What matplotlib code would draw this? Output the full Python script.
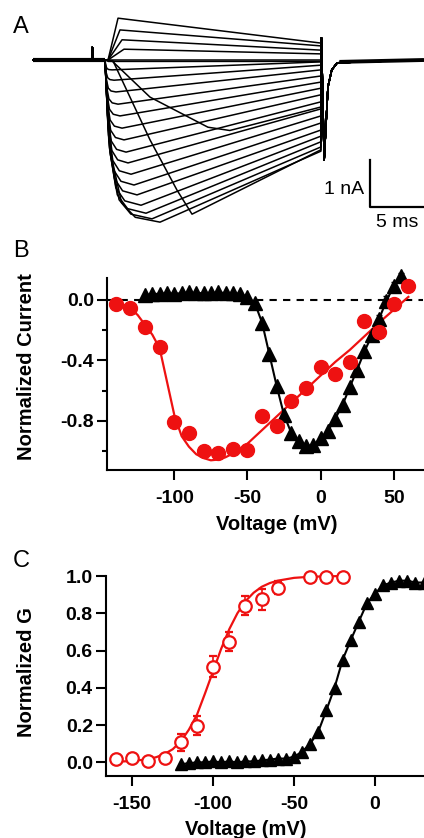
import numpy as np
import matplotlib
matplotlib.use("Agg")
import matplotlib.pyplot as plt

plt.rcParams['font.family'] = ['Liberation Sans', 'DejaVu Sans']
plt.rcParams['axes.unicode_minus'] = False

RED = '#ee1111'

# ---- panel A: current traces (time in ms from pulse onset, current in nA) ----
pre_t = [-6.6, -1.2, -1.17, -1.1, 0.0]
pre_i = [0.0, 0.0, 0.27, 0.0, 0.0]

pulse_end = 19.9
tail_t = [19.95, 20.2, 20.55, 20.9, 21.4, 23.5, 29.4]
tail_i = [0.47, -2.13, -0.57, -0.21, -0.06, -0.04, 0.0]

# inward traces: time to peak, peak current, current at end of pulse
in_tpk = [0.65, 0.83, 1.01, 1.20, 1.38, 1.57, 1.75, 1.94, 2.12, 2.40, 2.67, 2.95, 3.32, 3.78, 4.33, 5.07]
in_ipk = [-0.21, -0.43, -0.68, -0.94, -1.19, -1.45, -1.70, -1.96, -2.19, -2.43, -2.66, -2.87, -3.09, -3.26, -3.38, -3.45]
in_iend = [-0.04, -0.11, -0.21, -0.34, -0.47, -0.60, -0.74, -0.89, -1.04, -1.19, -1.34, -1.49, -1.62, -1.74, -1.85, -1.94]
# shared leading-edge shape (fraction of time to peak / fraction of peak)
act_ft = [0.0, 0.12, 0.3, 0.55, 1.0]
act_fi = [0.0, 0.6, 0.88, 0.97, 1.0]

# outward traces
out_ton = 0.28
out_tpk = [1.20, 1.38, 1.57, 1.75]
out_ipk = [0.89, 0.64, 0.43, 0.23]
out_iend = [0.36, 0.30, 0.21, 0.13]

# slowly activating traces
slow1_t = [0.0, 0.74, 4.15, 6.64, 8.02, pulse_end]
slow1_i = [0.0, -0.02, -1.70, -2.77, -3.28, -1.91]
slow2_t = [0.0, 0.65, 4.15, 9.49, 11.5, pulse_end]
slow2_i = [0.0, -0.02, -0.79, -1.43, -1.50, -1.00]
flat_i = [0.0, -0.03]

# ---- panel B: I-V ----
iv_red_v = [-140, -130, -120, -110, -100, -90, -80, -70, -60, -50, -40, -30, -20, -10, 0, 10, 20, 30, 40, 50, 60]
iv_red_i = [-0.026, -0.05, -0.18, -0.31, -0.81, -0.88, -1.0, -1.01, -0.985, -0.99, -0.77, -0.83, -0.67,
            -0.58, -0.445, -0.49, -0.41, -0.14, -0.21, -0.03, 0.09]
iv_fit_v = [-140, -130, -125, -120, -115, -110, -105, -100, -95, -90, -85, -80, -75, -70, -65, -60, -55,
            -50, -40, -30, -20, -10, 0, 10, 20, 30, 40, 50, 60]
iv_fit_i = [-0.007, -0.055, -0.1, -0.165, -0.23, -0.32, -0.54, -0.76, -0.9, -0.97, -1.02, -1.045, -1.06,
            -1.055, -1.04, -1.015, -0.985, -0.95, -0.86, -0.77, -0.68, -0.59, -0.50, -0.41, -0.33, -0.24,
            -0.15, -0.065, 0.02]
iv_blk_v = list(range(-120, 60, 5))
iv_blk_i = [0.03, 0.04, 0.04, 0.045, 0.04, 0.045, 0.05, 0.045, 0.045, 0.045, 0.05, 0.045, 0.045, 0.04,
            0.02, -0.02, -0.15, -0.36, -0.57, -0.76, -0.88, -0.935, -0.965, -0.96, -0.915, -0.865,
            -0.785, -0.695, -0.575, -0.46, -0.34, -0.235, -0.125, -0.005, 0.09, 0.155]
iv_blk_err = [0.0] * 31 + [0.02, 0.025, 0.03, 0.03, 0.02]

# ---- panel C: G-V ----
gv_red_v = [-160, -150, -140, -130, -120, -110, -100, -90, -80, -70, -60, -40, -30, -20]
gv_red_g = [0.018, 0.021, 0.009, 0.021, 0.107, 0.197, 0.513, 0.648, 0.84, 0.875, 0.937, 0.996, 0.996, 0.996]
gv_red_err = [0.0, 0.0, 0.0, 0.0, 0.045, 0.05, 0.055, 0.05, 0.05, 0.055, 0.035, 0.0, 0.0, 0.0]
gv_fit_v = [-160, -150, -140, -135, -130, -125, -120, -115, -110, -105, -100, -95, -90, -85, -80, -75,
            -70, -65, -60, -50, -40, -30, -20]
gv_fit_g = [0.003, 0.007, 0.017, 0.028, 0.045, 0.07, 0.112, 0.175, 0.255, 0.37, 0.49, 0.61, 0.715, 0.8,
            0.865, 0.91, 0.942, 0.962, 0.975, 0.99, 0.996, 0.998, 1.0]
gv_blk_v = list(range(-120, 35, 5))
gv_blk_g = [-0.01, -0.005, 0.0, 0.0, 0.005, 0.0, 0.005, 0.0, 0.005, 0.005, 0.01, 0.015, 0.02, 0.02,
            0.03, 0.057, 0.10, 0.165, 0.28, 0.40, 0.55, 0.655, 0.755, 0.853, 0.905, 0.95, 0.965,
            0.975, 0.975, 0.965, 0.965]

W, H = 424, 838
fig = plt.figure(figsize=(W / 100, H / 100), dpi=100)


def box(left, top, right, bottom):
    return [left / W, 1 - bottom / H, (right - left) / W, (bottom - top) / H]


# ---------------- A ----------------
ax_a = fig.add_axes(box(0, 0, W, 238))
ax_a.set_xlim(-105 / 10.85, 319 / 10.85)
ax_a.set_ylim(-(238 - 60) / 47, 60 / 47)
ax_a.axis('off')
kw = dict(color='black', lw=1.1)

def draw_trace(t, i, iend):
    ax_a.plot(list(pre_t) + list(t) + [pulse_end] + tail_t,
              list(pre_i) + list(i) + [iend] + tail_i, **kw)

for tp, ip, ie in zip(in_tpk, in_ipk, in_iend):
    draw_trace([tp * f for f in act_ft], [ip * f for f in act_fi], ie)
for tp, ip, ie in zip(out_tpk, out_ipk, out_iend):
    draw_trace([out_ton, tp], [0.0, ip], ie)
draw_trace(slow1_t, slow1_i, slow1_i[-1])
draw_trace(slow2_t, slow2_i, slow2_i[-1])
for fi in flat_i:
    draw_trace([0.3], [fi], fi)
# thick noisy baseline look
ax_a.plot([pre_t[0], 0], [0, 0], color='black', lw=3, solid_capstyle='butt')
ax_a.plot([21.6, 29.4], [-0.04, 0.0], color='black', lw=2.8, solid_capstyle='butt')

# scale bar
ax_a.plot([24.4, 24.4, 29.4], [-2.13, -3.13, -3.13], color='black', lw=1.6)
ax_a.text(23.9, -2.85, '1 nA', ha='right', va='baseline', fontsize=14)
ax_a.text(26.9, -3.55, '5 ms', ha='center', va='baseline', fontsize=14)

# ---------------- B ----------------
ax_b = fig.add_axes(box(107, 278, 423, 470))
ax_b.set_xlim(-146, 70)
ax_b.set_ylim(-1.124, 0.145)
ax_b.axhline(0, color='black', lw=1.5, dashes=(3.5, 3), zorder=1)
ax_b.plot(iv_fit_v, iv_fit_i, color=RED, lw=1.6, zorder=2)
ax_b.plot(iv_blk_v, iv_blk_i, color='black', lw=1.5, zorder=3)
ax_b.errorbar(iv_blk_v, iv_blk_i, yerr=iv_blk_err, fmt='^', color='black', ms=10.5,
              capsize=2.5, elinewidth=1, zorder=4, clip_on=False)
ax_b.plot(iv_red_v, iv_red_i, 'o', color=RED, ms=10, zorder=5, clip_on=False)
ax_b.set_xticks([-100, -50, 0, 50])
ax_b.set_yticks([0.0, -0.4, -0.8])
ax_b.set_yticklabels(['0.0', '-0.4', '-0.8'])
ax_b.set_yticks([-0.2, -0.6, -1.0], minor=True)

# ---------------- C ----------------
ax_c = fig.add_axes(box(106, 576, W, 776))
ax_c.set_xlim(-166.2, 30.3)
ax_c.set_ylim(-0.0735, 1.0)
ax_c.plot(gv_fit_v, gv_fit_g, color=RED, lw=1.6, zorder=2, clip_on=False)
ax_c.plot(gv_blk_v, gv_blk_g, color='black', lw=1.5, zorder=3, clip_on=False)
ax_c.plot(gv_blk_v, gv_blk_g, '^', color='black', ms=9, zorder=4, clip_on=False)
ax_c.errorbar(gv_red_v, gv_red_g, yerr=gv_red_err, fmt='o', color=RED, mfc='white', mec=RED,
              ms=9, mew=1.6, capsize=3, elinewidth=1.2, zorder=5, clip_on=False)
ax_c.set_xticks([-150, -100, -50, 0])
ax_c.set_yticks([0.0, 0.2, 0.4, 0.6, 0.8, 1.0])
ax_c.set_yticklabels(['0.0', '0.2', '0.4', '0.6', '0.8', '1.0'])

for ax in (ax_b, ax_c):
    for s in ('top', 'right'):
        ax.spines[s].set_visible(False)
    for s in ('left', 'bottom'):
        ax.spines[s].set_linewidth(1.5)
    ax.tick_params(which='major', direction='out', length=7.5, width=1.5, labelsize=14)
    ax.tick_params(which='minor', direction='out', length=3.8, width=1.5)
    ax.tick_params(axis='x', pad=7)
    ax.tick_params(axis='y', pad=2)
    for lab in ax.get_xticklabels() + ax.get_yticklabels():
        lab.set_fontweight('bold')

# axis titles and panel letters
fig.text(27 / W, 1 - 367 / H, 'Normalized Current', rotation=90, ha='center', va='center',
         fontsize=14.5, fontweight='bold')
fig.text(277 / W, 1 - 525 / H, 'Voltage (mV)', ha='center', va='center', fontsize=14.5, fontweight='bold')
fig.text(27 / W, 1 - 672 / H, 'Normalized G', rotation=90, ha='center', va='center',
         fontsize=14.5, fontweight='bold')
fig.text(246 / W, 1 - 829 / H, 'Voltage (mV)', ha='center', va='center', fontsize=14.5, fontweight='bold')
fig.text(13 / W, 1 - 33 / H, 'A', fontsize=17, va='baseline')
fig.text(13 / W, 1 - 257 / H, 'B', fontsize=17, va='baseline')
fig.text(13 / W, 1 - 567 / H, 'C', fontsize=17, va='baseline')

fig.savefig('out.png', dpi=100)
